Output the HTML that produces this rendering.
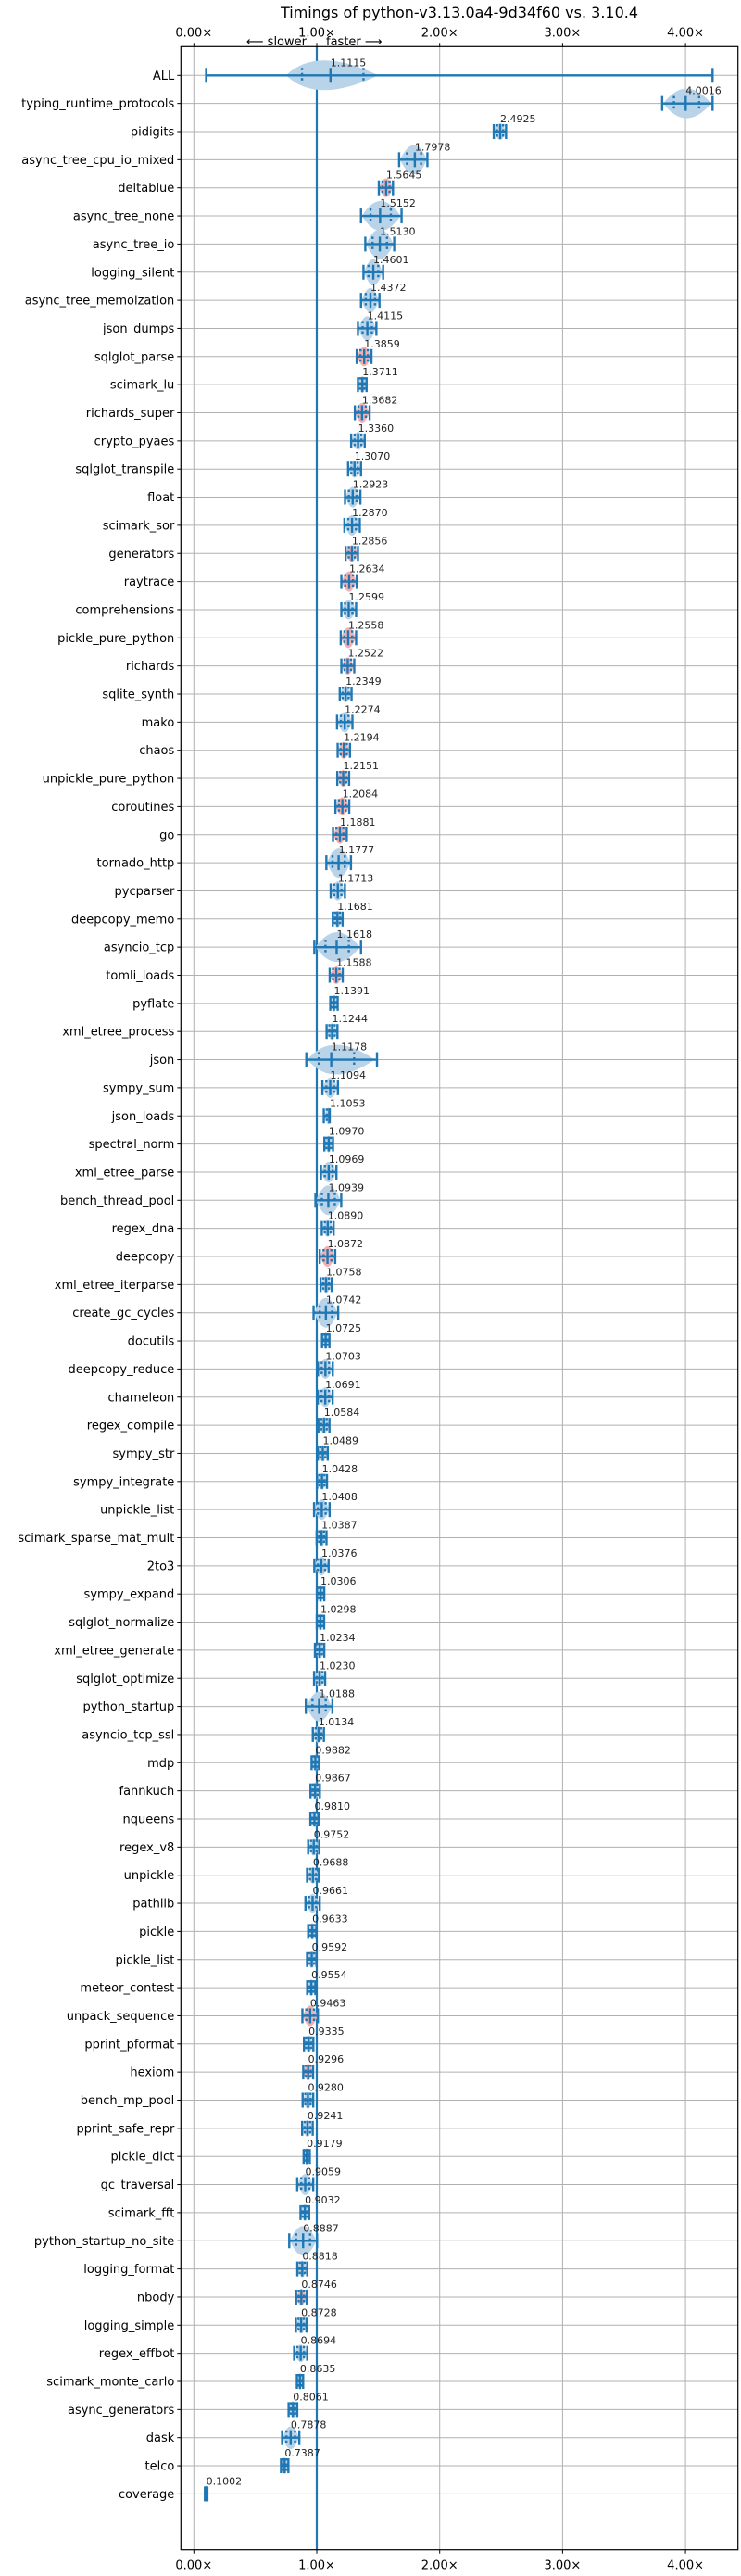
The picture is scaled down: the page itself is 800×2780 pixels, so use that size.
<!DOCTYPE html>
<html><head><meta charset="utf-8"><style>
html,body{margin:0;padding:0;background:#fff;}
svg{display:block;font-family:"DejaVu Sans","Liberation Sans",sans-serif;}
</style></head><body>
<svg id="chart" width="800" height="2780" viewBox="0 0 800 2780" xmlns="http://www.w3.org/2000/svg">
<text x="496" y="19" font-size="16" text-anchor="middle">Timings of python-v3.13.0a4-9d34f60 vs. 3.10.4</text>
<text x="331" y="49" font-size="13" text-anchor="end">⟵ slower</text>
<text x="352" y="49" font-size="13" text-anchor="start">faster ⟶</text>
<g id="grid"></g><g id="marks"></g><g id="axes"></g>
</svg>
<script>
const benchmarks=["ALL","typing_runtime_protocols","pidigits","async_tree_cpu_io_mixed","deltablue","async_tree_none","async_tree_io","logging_silent","async_tree_memoization","json_dumps","sqlglot_parse","scimark_lu","richards_super","crypto_pyaes","sqlglot_transpile","float","scimark_sor","generators","raytrace","comprehensions","pickle_pure_python","richards","sqlite_synth","mako","chaos","unpickle_pure_python","coroutines","go","tornado_http","pycparser","deepcopy_memo","asyncio_tcp","tomli_loads","pyflate","xml_etree_process","json","sympy_sum","json_loads","spectral_norm","xml_etree_parse","bench_thread_pool","regex_dna","deepcopy","xml_etree_iterparse","create_gc_cycles","docutils","deepcopy_reduce","chameleon","regex_compile","sympy_str","sympy_integrate","unpickle_list","scimark_sparse_mat_mult","2to3","sympy_expand","sqlglot_normalize","xml_etree_generate","sqlglot_optimize","python_startup","asyncio_tcp_ssl","mdp","fannkuch","nqueens","regex_v8","unpickle","pathlib","pickle","pickle_list","meteor_contest","unpack_sequence","pprint_pformat","hexiom","bench_mp_pool","pprint_safe_repr","pickle_dict","gc_traversal","scimark_fft","python_startup_no_site","logging_format","nbody","logging_simple","regex_effbot","scimark_monte_carlo","async_generators","dask","telco","coverage"];
const speedups=[1.1115,4.0016,2.4925,1.7978,1.5645,1.5152,1.5130,1.4601,1.4372,1.4115,1.3859,1.3711,1.3682,1.3360,1.3070,1.2923,1.2870,1.2856,1.2634,1.2599,1.2558,1.2522,1.2349,1.2274,1.2194,1.2151,1.2084,1.1881,1.1777,1.1713,1.1681,1.1618,1.1588,1.1391,1.1244,1.1178,1.1094,1.1053,1.0970,1.0969,1.0939,1.0890,1.0872,1.0758,1.0742,1.0725,1.0703,1.0691,1.0584,1.0489,1.0428,1.0408,1.0387,1.0376,1.0306,1.0298,1.0234,1.0230,1.0188,1.0134,0.9882,0.9867,0.9810,0.9752,0.9688,0.9661,0.9633,0.9592,0.9554,0.9463,0.9335,0.9296,0.9280,0.9241,0.9179,0.9059,0.9032,0.8887,0.8818,0.8746,0.8728,0.8694,0.8635,0.8061,0.7878,0.7387,0.1002];
const lows=[0.10,3.81,2.44,1.67,1.505,1.36,1.395,1.38,1.36,1.335,1.325,1.335,1.31,1.28,1.255,1.23,1.225,1.235,1.20,1.20,1.195,1.20,1.187,1.165,1.17,1.167,1.152,1.132,1.078,1.113,1.13,0.98,1.105,1.11,1.08,0.915,1.046,1.057,1.062,1.034,0.989,1.041,1.024,1.031,0.974,1.043,1.010,1.009,1.013,1.009,1.003,0.978,0.999,0.980,1.001,1.000,0.985,0.978,0.911,0.968,0.958,0.949,0.948,0.930,0.921,0.908,0.930,0.921,0.922,0.883,0.896,0.890,0.885,0.881,0.893,0.841,0.868,0.776,0.842,0.832,0.830,0.816,0.838,0.771,0.718,0.709,0.090];
const highs=[4.22,4.22,2.54,1.90,1.62,1.69,1.63,1.54,1.51,1.485,1.445,1.405,1.43,1.39,1.36,1.355,1.35,1.335,1.325,1.32,1.32,1.305,1.283,1.29,1.27,1.263,1.264,1.244,1.278,1.229,1.21,1.36,1.211,1.17,1.168,1.49,1.172,1.101,1.132,1.160,1.199,1.137,1.150,1.121,1.174,1.103,1.130,1.129,1.103,1.089,1.083,1.104,1.079,1.096,1.061,1.060,1.061,1.068,1.127,1.058,1.018,1.025,1.014,1.020,1.017,1.024,0.996,0.997,0.988,1.009,0.972,0.970,0.971,0.967,0.943,0.971,0.938,1.002,0.922,0.918,0.916,0.922,0.889,0.841,0.858,0.769,0.110];
const redRows=["deltablue","sqlglot_parse","richards_super","generators","raytrace","pickle_pure_python","richards","chaos","unpickle_pure_python","coroutines","go","tomli_loads","deepcopy","unpack_sequence","hexiom","nbody"];
const xTicks=[0,1,2,3,4];
const xTickLabels=["0.00×","1.00×","2.00×","3.00×","4.00×"];

const NS="http://www.w3.org/2000/svg";
const L=195.3,R=796.7,T=50.3,B=2751.7;
const X0=209.3,XS=132.7,Y0=81.3,YS=30.35;
const xs=v=>X0+v*XS, ys=i=>Y0+i*YS;
function mk(tag,attrs,parent,txt){const e=document.createElementNS(NS,tag);for(const k in attrs)e.setAttribute(k,attrs[k]);if(txt!==undefined)e.textContent=txt;parent.appendChild(e);return e;}
const grid=document.getElementById('grid'),marks=document.getElementById('marks'),axes=document.getElementById('axes');
const C="#1f77b4";
xTicks.forEach((t,i)=>{
  const g=mk('line',{x1:xs(t),x2:xs(t),y1:T,y2:B,stroke:"#b0b0b0","stroke-width":1},grid);
  
  
  [[T,T-4,T-11],[B,B+4,B+21]].forEach(([y,y2,ty])=>{
    mk('line',{x1:xs(t),x2:xs(t),y1:y,y2:y2,stroke:"#000","stroke-width":1},axes);
    const tl=mk('text',{x:xs(t),y:ty,"font-size":13,"text-anchor":"middle"},axes,xTickLabels[i]);
    
    
  });
});
benchmarks.forEach((b,i)=>{
  const y=ys(i);
  const gl=mk('line',{x1:L,x2:R,y1:y,y2:y,stroke:"#b0b0b0","stroke-width":1},grid);
  
  
  mk('line',{x1:L-4,x2:L,y1:y,y2:y,stroke:"#000","stroke-width":1},axes);
  const lab=mk('text',{x:L-7,y:y+4.5,"font-size":13,"text-anchor":"end"},axes,b);
  
  
});
const ref=mk('line',{x1:xs(1),x2:xs(1),y1:T,y2:B,stroke:C,"stroke-width":2.2},marks);


benchmarks.forEach((b,i)=>{
  const y=ys(i),m=speedups[i],lo=lows[i],hi=highs[i];
  const g=mk('g',{},marks);
  
  
  const red=redRows.includes(b);
  let vl,vr,pk;
  if(i===0){vl=xs(0.75);vr=xs(1.5);pk=xs(1.0);} else {vl=xs(m-(m-lo)*0.95);vr=xs(m+(hi-m)*0.95);pk=xs(m);}
  const h=Math.min(16,Math.max(9,(vr-vl)*0.7));
  const vio=mk('path',{d:`M${vl},${y} Q${pk},${y-2*h} ${vr},${y} Q${pk},${y+2*h} ${vl},${y}Z`,fill:red?"#f4b0b0":"#b9d3e8"},g);
  
  
  const w=2.4;
  mk('line',{x1:xs(lo),x2:xs(hi),y1:y,y2:y,stroke:C,"stroke-width":w},g);
  [lo,hi,m].forEach(v=>mk('line',{x1:xs(v),x2:xs(v),y1:y-8,y2:y+8,stroke:C,"stroke-width":w},g));
  const q1=i===0?0.88:m-(m-lo)*0.5, q3=i===0?1.38:m+(hi-m)*0.5;
  [q1,q3].forEach(v=>mk('line',{x1:xs(v),x2:xs(v),y1:y-8,y2:y+8,stroke:C,"stroke-width":w,"stroke-dasharray":"2.5,3"},g));
  const vt=mk('text',{x:xs(m),y:y-10,"font-size":11,fill:"#222"},g,m.toFixed(4));
  
  
});
const frame=mk('rect',{x:L,y:T,width:R-L,height:B-T,fill:"none",stroke:"#000","stroke-width":1.2},axes);


</script>
</body></html>
